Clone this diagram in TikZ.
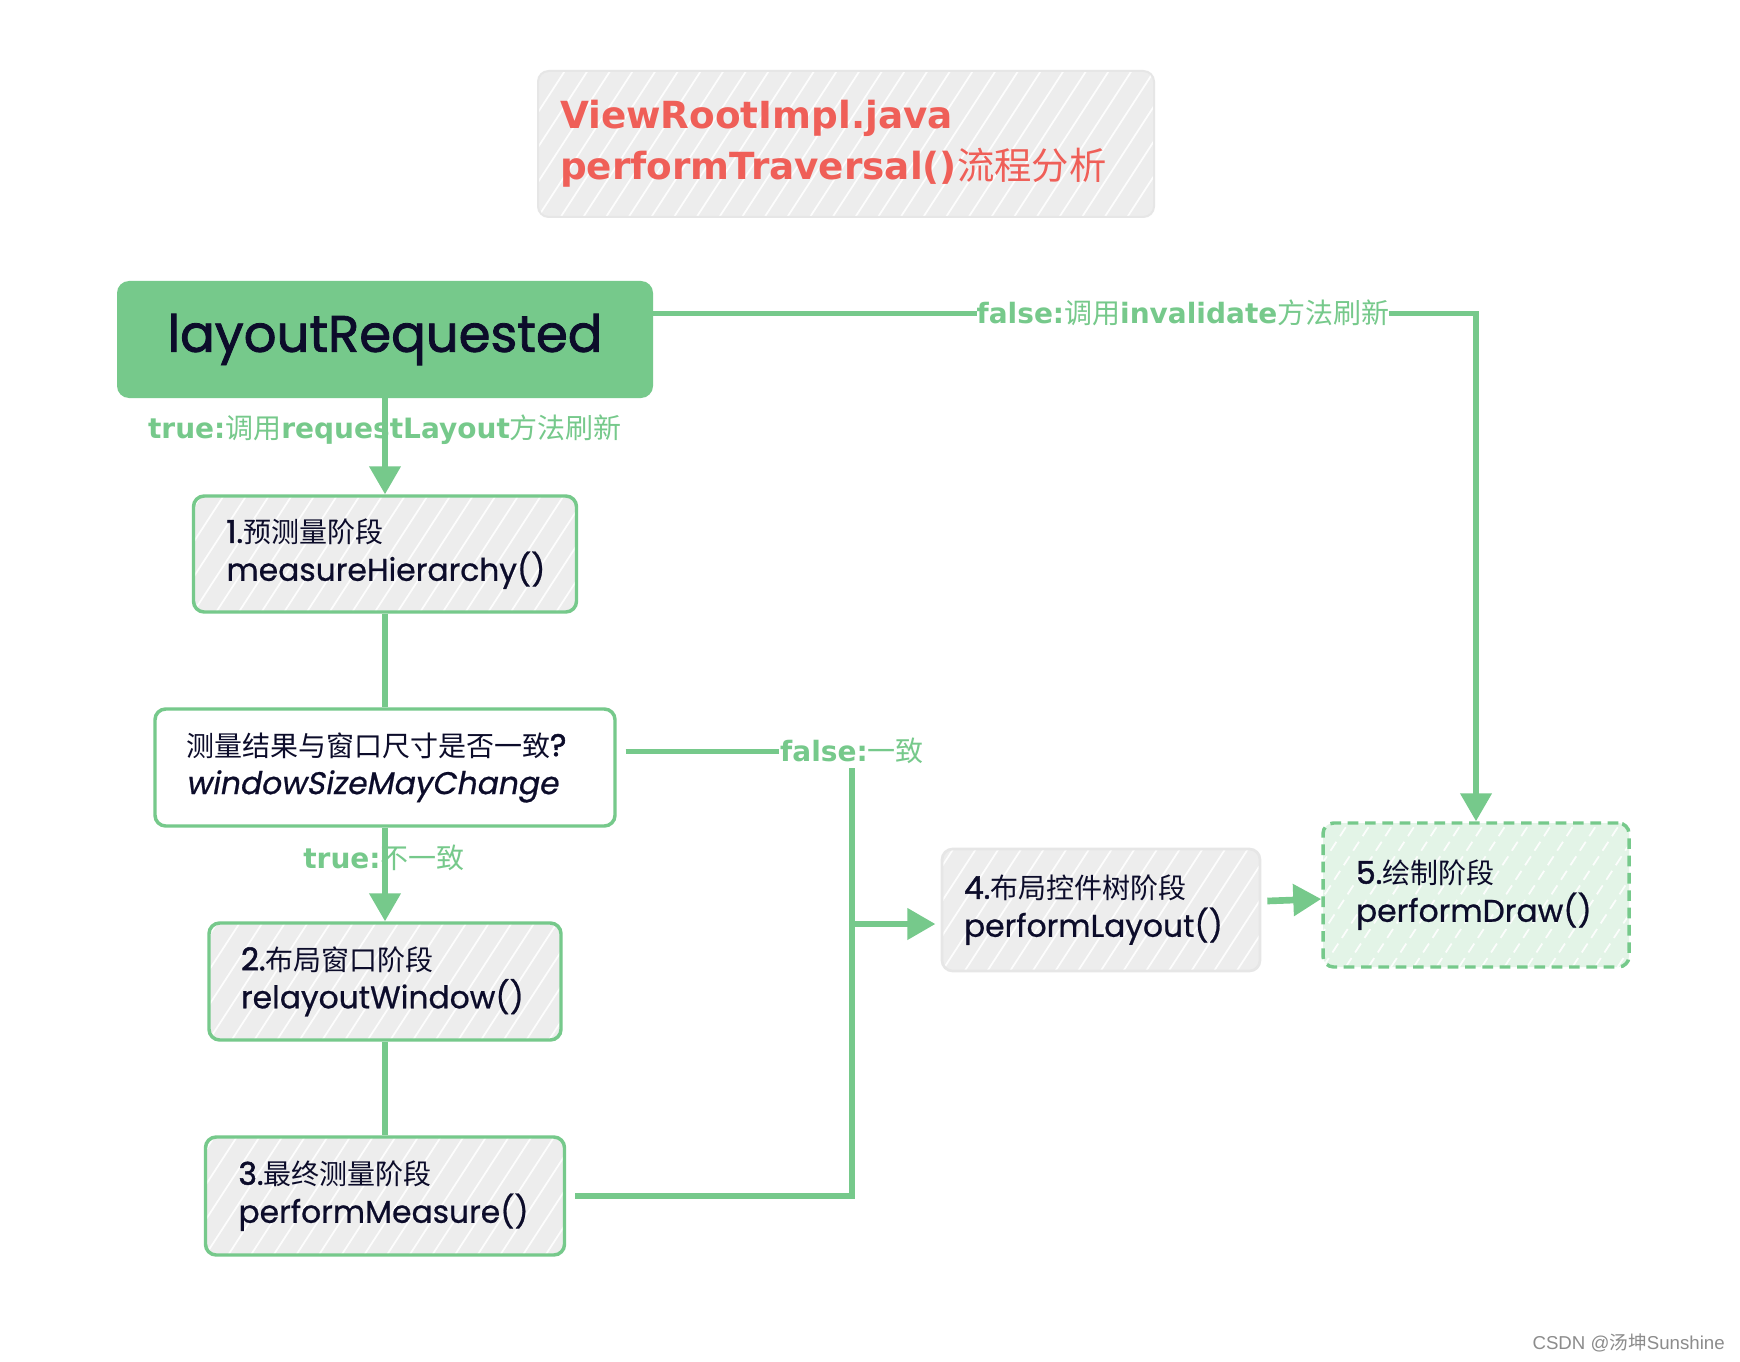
\documentclass[tikz,border=0pt]{standalone}
\usepackage{fontspec}
\newfontfamily\djfont{DejaVu Sans}
\newfontfamily\zhfont{Noto Sans CJK SC}
\newfontfamily\popmfont{Poppins}[FakeBold=0.7]
\newfontfamily\popbfont{Poppins}[FakeBold=1.6]
\newfontfamily\popifont{Poppins}[FakeBold=0.7,FakeSlant=0.18]
\newfontfamily\wmfont{Liberation Sans}
\newcommand\zh[1]{{\zhfont\mdseries #1}}
\newcommand\zhb[1]{{\zhfont\mdseries\fontsize{21pt}{28.5pt}\selectfont #1}}
\usetikzlibrary{arrows.meta,calc}
\definecolor{grn}{HTML}{76C98B}
\definecolor{ttl}{HTML}{EF5F58}
\definecolor{ink}{HTML}{0C0C2A}
\definecolor{hatchgray}{HTML}{EDEDED}
\definecolor{lgreen}{HTML}{E3F4E7}
\definecolor{edgegray}{HTML}{E6E6E6}
\tikzset{
  hatchfill/.style={path picture={
    \foreach \k in {-6,...,30}{
      \draw[white,line width=1.3pt,opacity=0.9]
        ([xshift=\k*17pt]path picture bounding box.south west) -- ++(57:200pt);}}},
  stage/.style={draw=grn, line width=2.6pt, rounded corners=8pt, fill=hatchgray,
    hatchfill, align=left, text=ink, inner ysep=0pt,
    font=\popmfont\fontsize{23.5pt}{28.5pt}\selectfont},
  conn/.style={draw=grn, line width=4pt},
  arr/.style={conn, -{Triangle[width=23pt,length=21pt]}},
  elabel/.style={text=grn, inner sep=1pt,
    font=\djfont\bfseries\fontsize{21pt}{24pt}\selectfont},
}
\begin{document}
\begin{tikzpicture}[x=0.75pt,y=-0.75pt]
\useasboundingbox[fill=white] (0,0) rectangle (1740,1362);

% title
\node[draw=edgegray, line width=1.5pt, rounded corners=8pt, fill=hatchgray, hatchfill,
  minimum width=462pt, minimum height=109.5pt, text width=429pt, inner xsep=16.5pt,
  align=left, text=ttl, font=\djfont\bfseries\fontsize{28pt}{38pt}\selectfont]
  (title) at (846,144) {ViewRootImpl.java\\performTraversal()\zh{流程分析}};

% main nodes
\node[fill=grn, rounded corners=9pt, minimum width=402pt, minimum height=87.75pt,
  text=ink, font=\popbfont\fontsize{38.5pt}{44pt}\selectfont]
  (lr) at (385,339.5) {\raisebox{-4pt}{layoutRequested}};

\node[stage, minimum width=287.25pt, minimum height=87pt, text width=237.75pt,
  inner xsep=24.75pt] (b1) at (385,554)
  {{\popbfont 1.}\zhb{预测量阶段}\\measureHierarchy()};

\node[stage, fill=white, path picture={}, minimum width=345pt, minimum height=87.75pt,
  text width=298.5pt, inner xsep=23.25pt] (dec) at (385,767.5)
  {\zhb{测量结果与窗口尺寸是否一致}{\popbfont ?}\\{\popifont windowSizeMayChange}};

\node[stage, minimum width=264pt, minimum height=87.75pt, text width=216pt,
  inner xsep=24pt] (b2) at (385,981.5)
  {{\popbfont 2.}\zhb{布局窗口阶段}\\relayoutWindow()};

\node[stage, minimum width=269.25pt, minimum height=88.5pt, text width=219.75pt,
  inner xsep=24.75pt] (b3) at (385,1196)
  {{\popbfont 3.}\zhb{最终测量阶段}\\performMeasure()};

\node[stage, draw=edgegray, line width=2pt, minimum width=238.5pt, minimum height=91.5pt,
  text width=205.5pt, inner xsep=16.5pt] (b4) at (1101,910)
  {{\popbfont 4.}\zhb{布局控件树阶段}\\performLayout()};

\node[stage, fill=lgreen, dash pattern=on 8pt off 5pt, minimum width=229.5pt,
  minimum height=108pt, text width=180pt, inner xsep=24.75pt] (b5) at (1476,895)
  {{\popbfont 5.}\zhb{绘制阶段}\\performDraw()};

% labels drawn under their lines
\node[elabel] (ltrue1) at (385,430) {true:\zh{调用}requestLayout\zh{方法刷新}};
\node[elabel] (ltrue2) at (384,858) {true:\zh{不一致}};

% connectors
\draw[arr] (lr.south) -- (b1.north);
\draw[conn] (b1.south) -- (dec.north);
\draw[arr] (dec.south) -- (b2.north);
\draw[conn] (b2.south) -- (b3.north);
\coordinate (jn) at (852,924);
\draw[conn] ($(dec.east)+(9,-16)$) -| (jn);
\draw[conn] ($(b3.east)+(9,0)$) -| (jn);
\draw[arr, shorten >=4pt] (jn) -- (jn -| b4.west);
\draw[arr, line width=5pt] ($(b4.east)+(6,-9)$) -- ($(b5.west)+(0,4)$);
\draw[arr] ($(lr.east)+(0,-26)$) -| (b5.north);

% labels that break their lines
\node[elabel, fill=white, inner ysep=3pt] (lfalse1) at (852,751) {false:\zh{一致}};
\node[elabel, fill=white, inner xsep=0pt] (lfalse2) at (1183,313)
  {false:\zh{调用}invalidate\zh{方法刷新}};

% watermark
\node[anchor=east, text=black!45, inner sep=0pt,
  font=\wmfont\fontsize{14pt}{16pt}\selectfont] (wm) at (1725,1343)
  {CSDN @\zh{汤坤}Sunshine};
\end{tikzpicture}
\end{document}
